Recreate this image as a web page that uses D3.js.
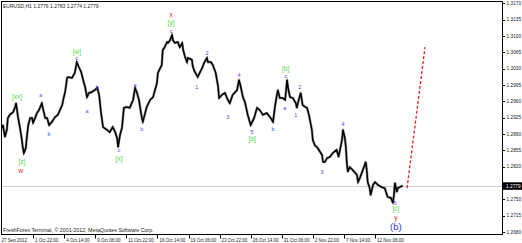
<!DOCTYPE html>
<html>
<head>
<meta charset="utf-8">
<script src="https://cdn.jsdelivr.net/npm/d3@7"></script>
<style>
  html, body { margin: 0; padding: 0; background: #fff; }
  svg { display: block; font-family: "Liberation Sans", Arial, sans-serif; }
</style>
</head>
<body>
<div id="chart"></div>
<script>
// H1 bar index (from the first bar) and close price
const bars = [0,2,6,10,12,16,23,27,29,31,33,37,41,43,45,49,51,54,58,62,
  64,68,72,76,82,84,89,93,97,103,109,115,124,126,130,132,134,136,144,150,
  154,158,163,167,171,175,179,185,191,196,200,204,208,216,222,228,233,237,239,243,
  247,251,257,263,270,274,278,282,288,290,298,305,311,319,321,329,331,335,340,342,
  346,350,352,356,362,366,371,373,377,381,383,391,393,397,401,403,407,412,416,422,
  424,430,434,440,445,447,453,459,465,469,475,484,488,492,496,500,506,512,519,525,
  531,537,545,552,558,562,566,568,572,578,583,587,589,593,599,605,607,611,615,619,
  624,628,632,634,638,640,644,650,659,661,665,669,675,681,689,693,700,702,706,708,
  710,712,716,722,731,733,737,743,749,751,753,757,759,764,768,774,782,788,794,801,
  805,807,809,813,815,819,825];
const closes = [1.2903,1.2909,1.2884,1.2899,1.2924,1.2931,1.2937,1.2948,1.2956,1.2941,
  1.2926,1.2903,1.2877,1.2860,1.2849,1.2860,1.2881,1.2909,1.2924,1.2924,
  1.2914,1.2924,1.2935,1.2941,1.2956,1.2946,1.2924,1.2924,1.2909,1.2916,
  1.2926,1.2931,1.2952,1.2963,1.2980,1.2995,1.3010,1.3012,1.3010,1.3021,
  1.3044,1.3034,1.3023,1.3006,1.2991,1.2969,1.2978,1.2980,1.2984,1.2989,
  1.2974,1.2935,1.2905,1.2899,1.2894,1.2905,1.2894,1.2881,1.2862,1.2888,
  1.2903,1.2946,1.2948,1.2946,1.2963,1.2989,1.2978,1.2963,1.2924,1.2916,
  1.2948,1.2963,1.2969,1.2999,1.3021,1.3038,1.3070,1.3076,1.3087,1.3085,
  1.3091,1.3102,1.3091,1.3085,1.3087,1.3076,1.3085,1.3070,1.3055,1.3044,
  1.3053,1.3049,1.3034,1.3023,1.3016,1.3012,1.3021,1.3031,1.3042,1.3053,
  1.3044,1.3044,1.3038,1.3021,1.2991,1.2967,1.2974,1.2978,1.2963,1.2956,
  1.2974,1.2984,1.3006,1.2989,1.2969,1.2959,1.2931,1.2909,1.2924,1.2946,
  1.2941,1.2931,1.2935,1.2926,1.2916,1.2948,1.2974,1.2984,1.2967,1.2967,
  1.2963,1.3006,1.2989,1.2969,1.2967,1.2956,1.2946,1.2963,1.2978,1.2952,
  1.2948,1.2946,1.2931,1.2920,1.2899,1.2877,1.2866,1.2860,1.2845,1.2830,
  1.2830,1.2838,1.2841,1.2849,1.2856,1.2841,1.2877,1.2899,1.2881,1.2862,
  1.2828,1.2809,1.2819,1.2813,1.2802,1.2787,1.2796,1.2813,1.2830,1.2813,
  1.2787,1.2774,1.2759,1.2781,1.2787,1.2781,1.2776,1.2774,1.2755,1.2753,
  1.2742,1.2759,1.2785,1.2766,1.2774,1.2776,1.2779];

// projected move (red dashed)
const forecastBars = [834, 871];
const forecastPrices = [1.2774, 1.3076];

const priceTicks = [1.3170,1.3135,1.3100,1.3065,1.3030,1.2995,1.2960,1.2925,
  1.2890,1.2855,1.2820,1.2750,1.2715,1.2680];
const timeTicks = [0,64,128,192,256,320,384,448,512,576,640,704,768];
const timeLabels = ["27 Sep 2012","1 Oct 22:00","4 Oct 14:00","9 Oct 06:00","11 Oct 22:00",
  "16 Oct 14:00","19 Oct 06:00","23 Oct 22:00","26 Oct 14:00","31 Oct 06:00",
  "2 Nov 22:00","7 Nov 14:00","12 Nov 06:00"];

// wave labels: text, bar, price
const greenLabels = [["[xx]",31,1.2969],["[z]",41,1.2830],["[w]",154,1.3066],["[x]",241,1.2838],
  ["[y]",348,1.3128],["[a]",515,1.2879],["[b]",584,1.3029],["[c]",811,1.2729]];
const redLabels = [["w",39,1.2811],["x",348,1.3145],["y",811,1.2710]];
const minorLabels = [["a",80,1.2974],["b",97,1.2890],["c",154,1.3053],["a",175,1.2939],
  ["b",196,1.2991],["c",241,1.2856],["a",274,1.2995],["b",288,1.2901],["c",348,1.3111],
  ["b",558,1.2901],["c",584,1.3014],["a",582,1.2946]];
const numberLabels = [["1",401,1.2991],["2",422,1.3064],["3",465,1.2926],["4",488,1.3016],
  ["5",515,1.2894],["1",605,1.2931],["2",613,1.2991],["3",659,1.2809],["4",702,1.2911],
  ["5",809,1.2742]];
const bigLabels = [["(b)",811,1.2691]];

const width = 522, height = 243;
const plot = { left: 1, top: 1, right: 502.5, bottom: 234.5 };

const svg = d3.select('#chart')
  .append('svg')
  .attr('width', width)
  .attr('height', height);

const x = d3.scaleLinear()
  .domain([0, 768])
  .range([2, 375]);
const y = d3.scaleLinear()
  .domain([1.3170, 1.2680])
  .range([3.3, 232]);

const lastClose = closes[closes.length - 1];

// current price line
svg.append('line')
  .attr('x1', plot.left).attr('x2', plot.right)
  .attr('y1', Math.round(y(lastClose)) + 0.5).attr('y2', Math.round(y(lastClose)) + 0.5)
  .attr('stroke', '#dcc6c6')
  .attr('stroke-width', 1);

const data = d3.zip(bars, closes);
const line = d3.line()
  .x(d => x(d[0]))
  .y(d => y(d[1]));

svg.append('path')
  .datum(data)
  .attr('fill', 'none')
  .attr('stroke', '#a0a0a0')
  .attr('stroke-width', 2.6)
  .attr('stroke-linejoin', 'round')
  .attr('d', line);

svg.append('path')
  .datum(data)
  .attr('fill', 'none')
  .attr('stroke', '#000')
  .attr('stroke-width', 1.5)
  .attr('stroke-linejoin', 'miter')
  .attr('d', line);

svg.append('path')
  .datum(d3.zip(forecastBars, forecastPrices))
  .attr('fill', 'none')
  .attr('stroke', '#e8201c')
  .attr('stroke-width', 1.3)
  .attr('stroke-dasharray', '3,2')
  .attr('d', line);

// frame
svg.append('rect')
  .attr('x', plot.left + 0.5).attr('y', plot.top + 0.5)
  .attr('width', plot.right - plot.left - 0.5)
  .attr('height', plot.bottom - plot.top - 0.5)
  .attr('fill', 'none')
  .attr('stroke', '#000')
  .attr('stroke-width', 1);

// price axis
const yAxis = svg.append('g');
yAxis.selectAll('line')
  .data(priceTicks)
  .join('line')
  .attr('x1', plot.right).attr('x2', plot.right + 2.5)
  .attr('y1', d => Math.round(y(d)) + 0.5).attr('y2', d => Math.round(y(d)) + 0.5)
  .attr('stroke', '#000');
yAxis.selectAll('text')
  .data(priceTicks)
  .join('text')
  .attr('x', 506.5)
  .attr('y', d => y(d) + 1.8)
  .attr('font-size', 4.8)
  .attr('fill', '#222')
  .text(d => d.toFixed(4));

// current price marker
svg.append('rect')
  .attr('x', plot.right + 0.5).attr('y', y(lastClose) - 3.5)
  .attr('width', 19.5).attr('height', 7.5)
  .attr('fill', '#000');
svg.append('text')
  .attr('x', 506).attr('y', y(lastClose) + 2)
  .attr('font-size', 4.8)
  .attr('fill', '#fff')
  .text(lastClose.toFixed(4));

// time axis
const xAxis = svg.append('g');
xAxis.selectAll('line')
  .data(timeTicks.slice(1))
  .join('line')
  .attr('x1', d => Math.round(x(d)) + 0.5).attr('x2', d => Math.round(x(d)) + 0.5)
  .attr('y1', plot.bottom).attr('y2', plot.bottom + 4)
  .attr('stroke', '#000');
xAxis.selectAll('text')
  .data(timeTicks)
  .join('text')
  .attr('x', (d, i) => i === 0 ? 1.5 : x(d) + 2)
  .attr('y', 241.5)
  .attr('font-size', 4.5)
  .attr('fill', '#222')
  .text((d, i) => timeLabels[i]);

// header and copyright
svg.append('text')
  .attr('x', 3).attr('y', 7.5)
  .attr('font-size', 5)
  .attr('fill', '#222')
  .text('EURUSD,H1  1.2776 1.2783 1.2774 1.2779');
svg.append('text')
  .attr('x', 3).attr('y', 232)
  .attr('font-size', 5.3)
  .attr('fill', '#222')
  .text('FreshForex Terminal, \u00a9 2001-2012, MetaQuotes Software Corp.');

// wave labels
function labels(rows, color, size) {
  svg.append('g')
    .selectAll('text')
    .data(rows)
    .join('text')
    .attr('x', d => x(d[1]))
    .attr('y', d => y(d[2]))
    .attr('dy', '0.35em')
    .attr('text-anchor', 'middle')
    .attr('font-size', size)
    .attr('fill', color)
    .text(d => d[0]);
}
labels(greenLabels, '#4fd84a', 6.5);
labels(redLabels, '#e32222', 6.5);
labels(minorLabels, '#4a4ae8', 5.5);
labels(numberLabels, '#5a3ad8', 5.5);
labels(bigLabels, '#2a3ae6', 9.5);
</script>
</body>
</html>
